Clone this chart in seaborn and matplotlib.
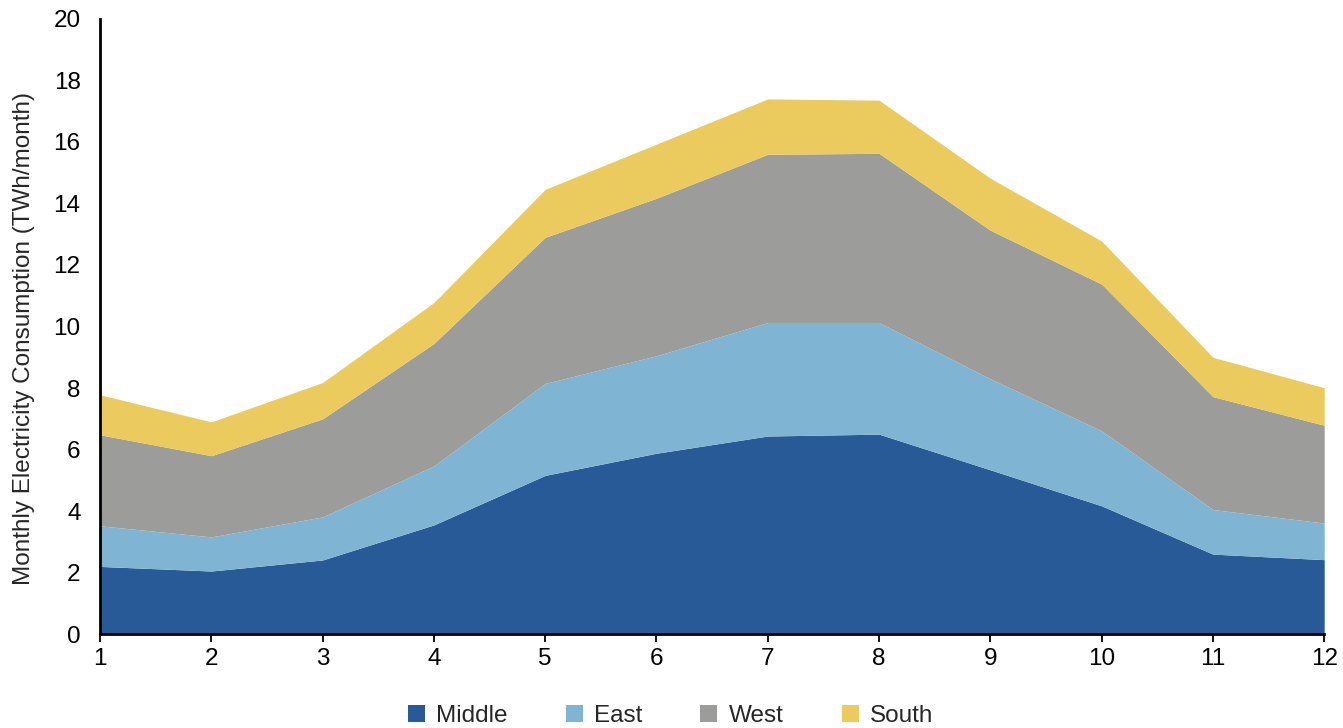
import matplotlib
matplotlib.use("Agg")
import matplotlib.pyplot as plt
import seaborn as sns
import pandas as pd

# Monthly electricity consumption by region (TWh/month)
months = [1, 2, 3, 4, 5, 6, 7, 8, 9, 10, 11, 12]
middle = [2.20, 2.05, 2.41, 3.55, 5.16, 5.88, 6.44, 6.50, 5.34, 4.17, 2.60, 2.42]
east = [1.32, 1.11, 1.40, 1.92, 2.99, 3.17, 3.69, 3.63, 2.96, 2.44, 1.45, 1.19]
west = [2.96, 2.64, 3.19, 3.98, 4.75, 5.12, 5.47, 5.50, 4.83, 4.77, 3.67, 3.18]
south = [1.30, 1.10, 1.18, 1.33, 1.56, 1.76, 1.80, 1.73, 1.69, 1.40, 1.28, 1.22]

regions = ["Middle", "East", "West", "South"]
colors = ["#285A98", "#7FB5D3", "#9C9C9A", "#EBCB5E"]

df = pd.DataFrame({"Month": months, "Middle": middle, "East": east,
                   "West": west, "South": south})

sns.set_style("white")
plt.rcParams["font.family"] = ["Liberation Sans", "DejaVu Sans"]

fig = plt.figure(figsize=(13.43, 7.28), dpi=100)
ax = fig.add_axes([0.0745, 0.129, 0.9115, 0.845])

ax.stackplot(df["Month"], [df[r] for r in regions], labels=regions,
             colors=colors, linewidth=0)

ax.set_xlim(1, 12)
ax.set_ylim(0, 20)
ax.set_xticks(months)
ax.set_yticks(range(0, 21, 2))
ax.tick_params(axis="x", direction="out", length=6, width=1.3, colors="black",
               labelsize=17.5, pad=4, bottom=True)
ax.tick_params(axis="y", length=0, labelsize=17.5, pad=14, colors="black")
for side in ["top", "right"]:
    ax.spines[side].set_visible(False)
for side in ["left", "bottom"]:
    ax.spines[side].set_color("black")
    ax.spines[side].set_linewidth(2)

ax.set_ylabel("Monthly Electricity Consumption (TWh/month)", fontsize=17.5)
ax.yaxis.set_label_coords(-0.0535, 0.481)

leg = ax.legend(loc="upper center", bbox_to_anchor=(0.466, -0.08), ncol=4,
                frameon=False, fontsize=17.5, handlelength=0.7,
                handleheight=0.7, handletextpad=0.45, columnspacing=2.4)

fig.savefig("out.png", dpi=100)
